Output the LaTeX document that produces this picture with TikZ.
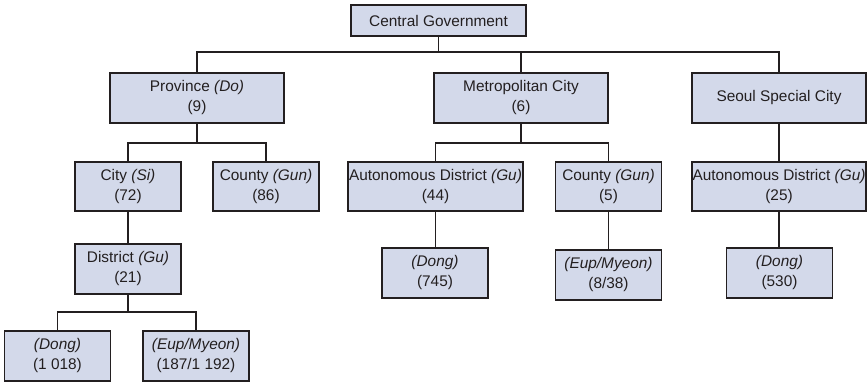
\documentclass[tikz,border=0pt]{standalone}
\usepackage{fontspec}
\setmainfont{Liberation Sans}
\definecolor{boxfill}{HTML}{D3D9EA}
\definecolor{ink}{HTML}{231F20}
\begin{document}
\begin{tikzpicture}[x=1pt,y=-1pt,
  box/.style={draw=ink, fill=boxfill, line width=1.4pt, rectangle, inner sep=0pt,
    align=center, text=ink, font=\fontsize{15.4}{20}\selectfont, minimum height=50pt},
  wide/.style={box, minimum width=174pt},
  narrow/.style={box, minimum width=106pt},
  link/.style={draw=ink, line width=1.5pt}]
\useasboundingbox (0,0) rectangle (868,382);
\node[box, minimum width=175pt, minimum height=31pt] (cg) at (438.5,20.5) {Central Government};
\node[wide] (prov) at (197,98) {Province \textit{(Do)}\\(9)};
\node[wide] (metro) at (521,98) {Metropolitan City\\(6)};
\node[wide] (seoul) at (779,98) {Seoul Special City};
\node[narrow, minimum height=49pt] (city) at (128,186.5) {City \textit{(Si)}\\(72)};
\node[narrow, minimum height=49pt] (cgun) at (266,186.5) {County \textit{(Gun)}\\(86)};
\node[wide, minimum width=175pt, minimum height=49pt] (ad1) at (435.5,186.5) {Autonomous District \textit{(Gu)}\\(44)};
\node[narrow, minimum height=49pt] (c5) at (608.5,186.5) {County \textit{(Gun)}\\(5)};
\node[wide, minimum height=49pt] (ad2) at (779,186.5) {Autonomous District \textit{(Gu)}\\(25)};
\node[narrow] (dist) at (128,269) {District \textit{(Gu)}\\(21)};
\node[narrow] (d745) at (435,273) {\textit{(Dong)}\\(745)};
\node[narrow] (e838) at (608.5,275) {\textit{(Eup/Myeon)}\\(8/38)};
\node[narrow] (d530) at (779.5,273) {\textit{(Dong)}\\(530)};
\node[narrow] (d1018) at (57.5,356) {\textit{(Dong)}\\(1 018)};
\node[narrow] (e187) at (196,356) {\textit{(Eup/Myeon)}\\(187/1 192)};
\coordinate (bus1) at (0,52);
\coordinate (bus2) at (0,143);
\coordinate (bus4) at (0,312);
\draw[link] (cg.south) -- (cg.south |- bus1);
\draw[link] (prov.north) |- (seoul.north |- bus1) -- (seoul.north);
\draw[link] (metro.north) -- (metro.north |- bus1);
\draw[link] (prov.south) -- (prov.south |- bus2);
\draw[link] (city.north) |- (cgun.north |- bus2) -- (cgun.north);
\draw[link] (metro.south) -- (metro.south |- bus2);
\draw[link] (ad1.north) |- (c5.north |- bus2) -- (c5.north);
\draw[link] (seoul.south) -- (ad2.north);
\draw[link] (city.south) -- (dist.north);
\draw[link] (ad1.south) -- (d745.north -| ad1.south);
\draw[link] (c5.south) -- (e838.north -| c5.south);
\draw[link] (ad2.south) -- (d530.north -| ad2.south);
\draw[link] (dist.south) -- (dist.south |- bus4);
\draw[link] (d1018.north) |- (e187.north |- bus4) -- (e187.north);
\end{tikzpicture}
\end{document}
